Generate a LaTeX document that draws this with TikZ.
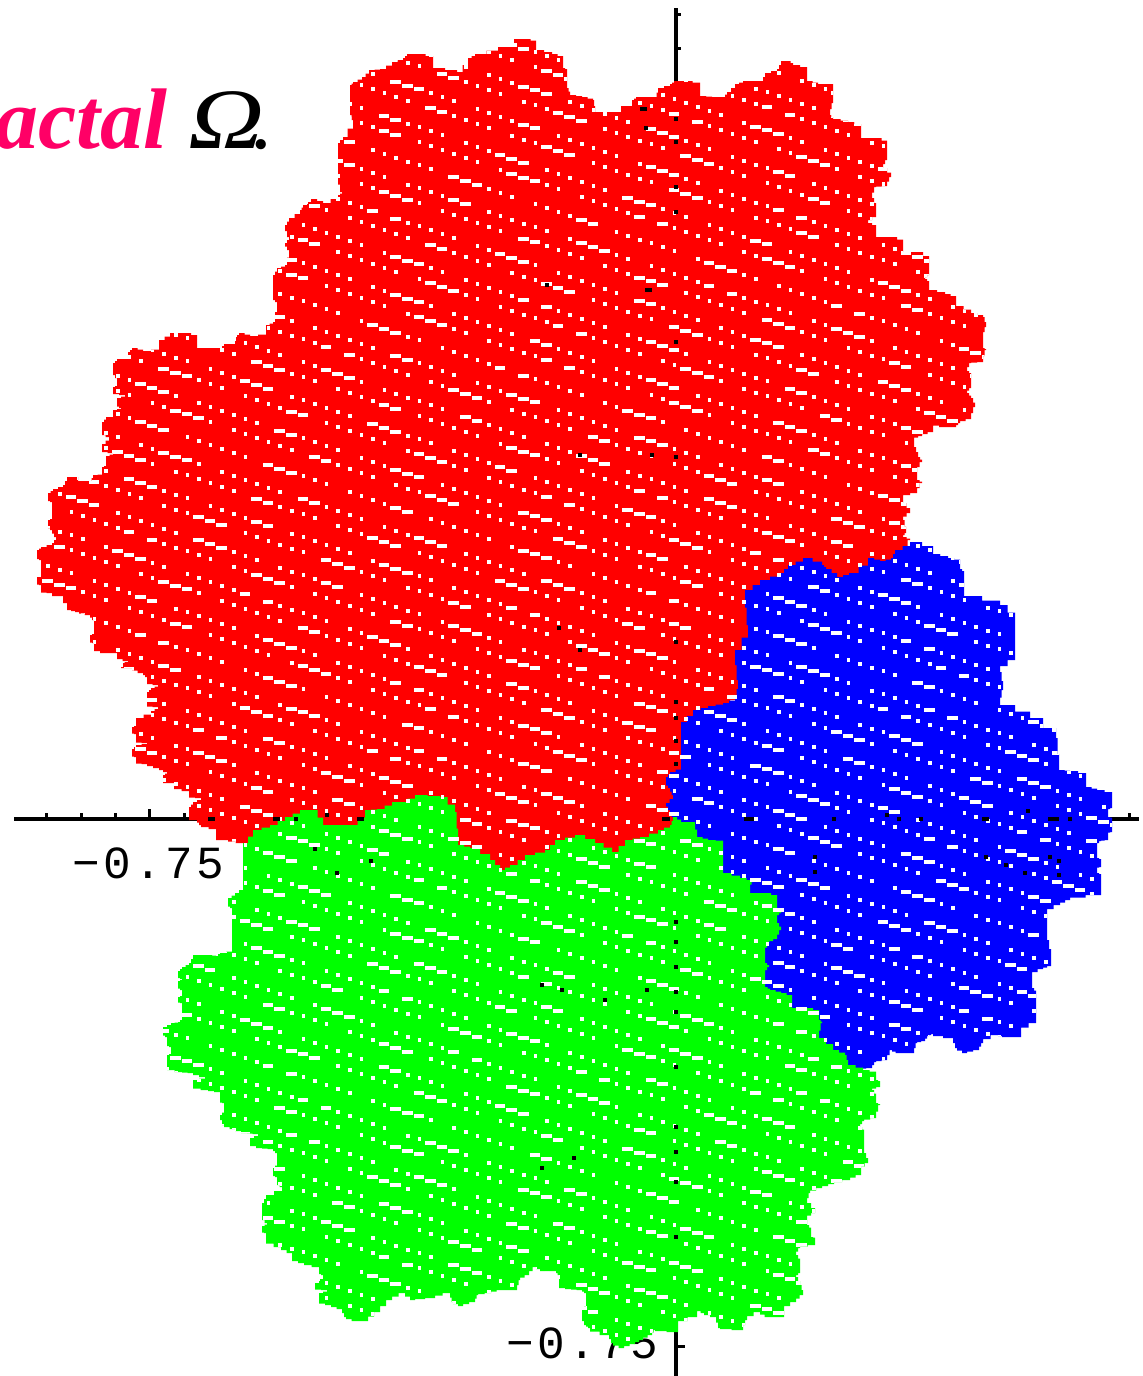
\documentclass[tikz,border=0pt]{standalone}
\usepackage{fontspec}
\usepackage{xcolor}
\setmainfont{Liberation Serif}
\newfontfamily\axisfont[LetterSpace=7.4]{Liberation Mono}
\definecolor{fractalpink}{HTML}{FF0066}
\definecolor{pieceone}{HTML}{FF0000}
\definecolor{piecetwo}{HTML}{0000FF}
\definecolor{piecethree}{HTML}{00FF00}
\tikzset{
  axisline/.style={draw=black,line width=2pt},
  tickline/.style={draw=black,line width=1.5pt},
  axislabel/.style={font=\axisfont\fontsize{23}{28}\selectfont,inner sep=0pt,text=black},
  titlepart/.style={inner sep=0pt,font=\fontsize{43}{50}\selectfont}
}
\newcommand{\stairs}[3]{(#1,#2) \foreach \x/\y [remember=\x as \lx (initially #1),remember=\y as \ly (initially #2)] in #3
  {\foreach \k in {0.5,1} {-| (\lx+\k*\x-\k*\lx,\ly+\k*\y-\k*\ly)}} -- cycle}
\def\redpts{525/39,536/42,536/50,552/54,563/58,563/68,567/70,567/88,570/95,582/97,593/100,595/112,610/112,632/100,636/97,655/97,658/88,670/84,674/81,685/81,700/84,700/96,712/97,723/97,727/92,735/84,743/81,761/81,765/73,777/69,781/61,788/61,793/65,807/69,807/81,818/84,833/84,833/103,830/115,833/119,848/122,861/126,861/138,876/138,887/143,887/160,883/168,891/177,887/186,876/187,872/198,876/208,876/217,868/223,876/227,876/237,891/237,903/242,903/252,917/252,929/260,929/275,925/279,929/283,929/290,945/294,956/298,956/306,971/313,983/317,986/327,983/337,983/348,986/350,983/362,971/363,967/371,971/375,971/388,967/393,971/398,975/407,971/419,960/423,956/427,945/427,933/424,933/432,922/436,914/439,914/447,918/457,922/462,917/472,917/480,922/483,917/493,903/497,903/503,910/513,903/520,906/533,903/537,910/540,905/600,760/700,700/880,430/880,243/843,228/840,216/840,216/829,201/825,197/820,189/820,189/807,193/802,201/798,189/797,189/791,174/787,174/783,163/783,163/775,167/772,159/768,147/764,136/763,136/757,132/756,132/749,136/745,147/743,136/742,136/734,132/733,132/727,136/725,136/718,151/711,158/707,147/706,147/692,151/688,158/685,147/683,147/677,143/673,132/668,121/668,121/663,128/661,117/657,117/653,106/653,94/649,94/643,90/642,90/635,94/633,94/620,90/615,79/612,71/610,63/596,52/596,52/593,41/592,41/585,37/584,37/577,41/577,41/560,37/558,37/550,41/547,52/543,56/537,52/530,48/527,48/520,52/518,52/502,48/500,48/493,53/489,63/485,67/477,78/477,78/481,90/481,93/475,102/474,102/467,106/465,106/456,113/453,102/451,102/444,109/437,102/433,102/422,106/417,113/417,113/410,121/408,117/405,117/398,125/395,113/393,113/387,117/385,117/378,113/372,113/363,117/359,128/359,128/352,132/348,143/351,159/348,159/340,170/333,185/333,197/337,197/348,220/348,224/344,235/344,235/337,239/333,250/336,266/333,266/325,273/322,277/302,273/298,273/275,277/268,285/265,289/250,285/243,289/237,285/225,289/218,300/210,303/205,311/199,323/203,338/195,342/192,338/177,338/143,342/137,353/120,350/110,350/85,353/82,362/77,369/70,380/69,392/62,403/58,407/54,418/54,433/58,433/68,457/72,468/58,475/54,498/47,514/39}
\def\bluepts{922/542,922/546,933/546,933/554,948/558,960/561,960/569,964/573,964/596,1000/605,1015/620,1015/660,1000/672,1003/690,1000/705,1030/718,1056/738,1059/770,1070/771,1086/775,1086/787,1097/790,1112/794,1112/808,1108/810,1108/817,1112/818,1112/832,1108/833,1108/840,1101/841,1097/845,1097/858,1101/860,1101/867,1097/868,1097/873,1101/875,1101/895,1070/900,1060/905,1047/913,1047/940,1051/958,1051/966,1043/969,1032/975,1032/988,1036/993,1036/1023,1021/1032,1021/1037,1006/1037,998/1035,983/1043,979/1050,967/1053,957/1048,953/1038,933/1034,929/1036,925/1041,917/1043,914/1053,899/1053,892/1050,887/1060,876/1062,872/1068,860/1069,850/1068,820/1040,700/860,673/817,670/810,666/803,673/795,670/788,666/783,666/777,670/772,681/767,681/722,693/710,708/706,723/703,735/698,738/680,735/650,748/625,745/590,760/580,780/573,788/565,803/558,822/565,826/569,837/577,849/573,868/558,880/561,891/558,895/550,910/542}
\def\greenpts{253/830,270/825,285/817,300/810,312/810,323/825,350/825,365/810,377/809,392/802,400/802,415/795,440/797,455/812,458/845,470/848,490/860,500/870,510/865,525/855,545/850,555/840,575/835,595/843,612/852,625/840,640/837,658/830,670/825,673/817,681/822,693/822,697/837,708/840,723/841,723/873,740/878,753/882,750/887,750/893,765/893,777/897,777/908,781/913,777/917,777/923,781/930,777/939,769/943,765/952,765/963,769/967,765/973,765/987,770/990,781/993,792/997,792/1008,807/1008,819/1012,819/1020,822/1023,819/1038,833/1050,845/1055,848/1065,863/1070,876/1073,876/1080,880/1082,880/1087,872/1090,876/1097,876/1103,880/1105,876/1118,864/1121,860/1127,864/1132,864/1153,868/1163,861/1170,861/1175,850/1180,834/1184,822/1188,810/1193,807/1203,815/1213,807/1218,807/1225,811/1230,811/1237,815/1238,815/1245,800/1248,796/1255,800/1262,800/1273,796/1277,800/1285,803/1295,796/1302,784/1310,784/1317,769/1317,760/1312,747/1320,743/1330,720/1328,716/1317,704/1313,697/1309,697/1317,678/1325,678/1332,655/1330,652/1335,643/1340,635/1344,624/1348,613/1343,609/1335,590/1328,586/1325,582/1317,582/1308,586/1305,586/1293,582/1290,571/1289,559/1287,559/1275,556/1271,544/1271,536/1267,529/1275,520/1280,517/1290,502/1290,491/1293,478/1295,475/1302,463/1306,453/1302,450/1293,435/1298,415/1300,405/1293,392/1300,380/1312,368/1321,357/1321,346/1317,342/1309,331/1305,319/1302,319/1293,327/1290,315/1289,315/1283,323/1275,319/1273,319/1267,304/1263,292/1259,292/1253,281/1247,266/1240,266/1233,262/1232,262/1226,267/1223,262/1217,262/1203,266/1195,282/1187,277/1183,277/1177,273/1175,273/1168,277/1163,277/1153,273/1149,262/1148,250/1144,250/1138,258/1134,247/1133,235/1129,224/1125,220/1115,224/1110,224/1103,220/1102,220/1092,208/1090,193/1087,193/1080,205/1077,193/1073,182/1072,167/1068,167/1055,171/1053,171/1047,167/1045,167/1037,163/1034,163/1027,171/1023,178/1022,182/1018,182/1003,178/1002,178/997,182/995,182/990,178/987,178/981,182/979,178/977,178/971,182/967,189/963,193/955,208/955,216/956,220/952,232/951,232/908,228/905,228/898,235/893,243/887,243/843}
\begin{document}
\begin{tikzpicture}[x=0.5pt,y=-0.5pt]
  \useasboundingbox (0,0) rectangle (1142,1376);
  \draw[axisline] (14,819) -- (1139,819);
  \draw[axisline] (676,8) -- (676,1376);
  \foreach \tx in {46,81,115,184,1129} \draw[tickline] (\tx,819) -- (\tx,813);
  \draw[tickline] (149,819) -- (149,809);
  \foreach \ty in {14,48} \draw[tickline] (676,\ty) -- (681,\ty);
  \draw[tickline] (676,1346) -- (685,1346);
  \node[axislabel,anchor=base east] (xlabel) at (225,878) {−0.75};
  \node[axislabel,anchor=base east] (ylabel) at (659,1358) {−0.75};

  \fill[pieceone] \stairs{514}{39}{\redpts};
  \fill[piecetwo] \stairs{910}{542}{\bluepts};
  \fill[piecethree] \stairs{243}{843}{\greenpts};

  \begin{scope}
    \clip \stairs{514}{39}{\redpts} \stairs{910}{542}{\bluepts} \stairs{243}{843}{\greenpts};
    \foreach \j [evaluate=\j as \rowy using {23*\j-8*floor(0.45*\j)}] in {-20,...,72} \foreach \i in {0,...,98} {
      \pgfmathtruncatemacro\marktype{mod(\i+2*\j+3*\j*\j+44,11)}
      \pgfmathtruncatemacro\markgap{mod(3*\i+5*\j+700,7)}
      \ifnum\markgap>0
        \ifnum\marktype<3
          \fill[white] (11.6*\i-4,3.9*\i+\rowy) rectangle ++(10.5,4);
        \else
          \fill[white] (11.6*\i,3.9*\i+\rowy) rectangle ++(3.6,4);
        \fi
      \fi
    }
    \foreach \sy in {117,140,185,210,340,455,640,700,716,739,762,920,940,965,990,1010,1065,1125,1150,1180,1235}
      \fill[black] (674,\sy) rectangle ++(4,4);
    \foreach \sx/\sy/\sw in {208/817/7,273/817/7,294/817/4,357/817/7,325/813/4,313/847/4,369/859/4,335/871/4,
      640/107/7,644/126/4,545/283/4,645/288/7,578/453/4,650/453/4,557/626/4,578/648/4,540/983/4,560/988/4,
      603/998/4,645/988/4,540/1166/4,572/1156/4,662/817/8,744/817/10,832/817/4,885/813/4,897/817/4,919/817/4,
      813/855/4,813/870/4,982/817/7,1048/817/11,1068/817/4,1026/809/4,984/855/4,1048/855/4,1057/859/4,
      1004/863/4,1057/873/4,1023/871/4}
      \fill[black] (\sx,\sy) rectangle ++(\sw,4);
  \end{scope}

  \node[titlepart,anchor=base east,text=fractalpink] (fractalword) at (168,148) {\bfseries\itshape actal};
  \node[titlepart,anchor=base west,text=black,xscale=1.22,transform shape] (omega) at (188,148) {\itshape Ω};
  \node[titlepart,anchor=base west,text=black] (stop) at (250,148) {.};
\end{tikzpicture}
\end{document}
